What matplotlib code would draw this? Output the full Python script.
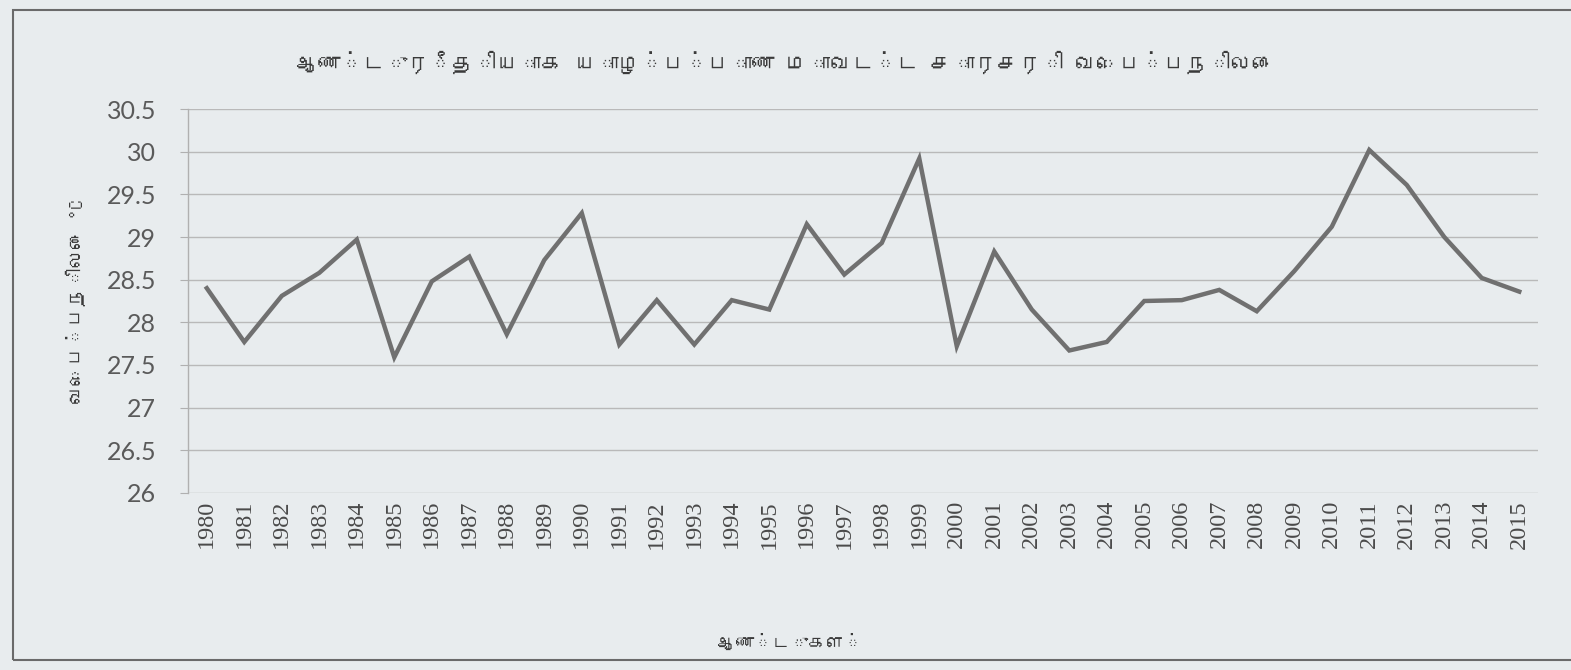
import matplotlib
matplotlib.use("Agg")
import matplotlib.pyplot as plt
from matplotlib import font_manager
from matplotlib.ft2font import FT2Font
from matplotlib.patches import Rectangle

# --- data ---
years = list(range(1980, 2016))
temps = [28.40, 27.77, 28.31, 28.58, 28.97, 27.59, 28.48, 28.77, 27.86, 28.73,
         29.28, 27.74, 28.26, 27.74, 28.26, 28.15, 29.15, 28.56, 28.93, 29.92,
         27.72, 28.83, 28.15, 27.67, 27.77, 28.25, 28.26, 28.38, 28.13, 28.60,
         29.12, 30.02, 29.61, 29.00, 28.52, 28.36]
y_ticks = [26, 26.5, 27, 27.5, 28, 28.5, 29, 29.5, 30, 30.5]
y_tick_labels = ["26", "26.5", "27", "27.5", "28", "28.5", "29", "29.5", "30", "30.5"]

title = "ஆண்டுரீதியாக யாழ்ப்பாண மாவட்ட சாரசரி வெப்பநிலை"
xlabel = "ஆண்டுகள்"
ylabel = "வெப்பநிலை °C"


def find_tamil_font():
    # register every installed font that has Tamil glyphs, return a family name
    name = None
    for path in font_manager.findSystemFonts():
        try:
            if 0x0B86 in FT2Font(path).get_charmap():
                font_manager.fontManager.addfont(path)
                if name is None:
                    name = font_manager.FontProperties(fname=path).get_name()
        except Exception:
            continue
    return name


tamil = find_tamil_font()
tamil_family = [tamil, "DejaVu Sans"] if tamil else ["DejaVu Sans"]

bg = "#e8ecee"
fig = plt.figure(figsize=(15.71, 6.70), dpi=100, facecolor=bg)
ax = fig.add_axes([0.1197, 0.2642, 0.8593, 0.5731])
ax.set_facecolor(bg)

ax.plot(years, temps, color="#707070", lw=3.2, solid_joinstyle="miter")

ax.set_xlim(1979.5, 2015.5)
ax.set_ylim(26, 30.5)
ax.set_yticks(y_ticks)
ax.set_yticklabels(y_tick_labels, family="Lato", fontsize=18, color="#5a5a5a")
ax.set_xticks(years)
ax.set_xticklabels([str(y) for y in years], rotation=90, family="Liberation Serif",
                   fontsize=17.5, color="#4a4a4a")
ax.tick_params(axis="x", length=0, pad=5)
ax.tick_params(axis="y", length=6, color="#b0b0b0", pad=17)
ax.grid(axis="y", color="#b9b9b9", lw=1.0)
ax.set_axisbelow(True)
for s in ["top", "right", "bottom"]:
    ax.spines[s].set_visible(False)
ax.spines["left"].set_color("#b0b0b0")
ax.spines["left"].set_linewidth(1.0)

fig.text(0.5, 0.907, title, ha="center", va="center", fontsize=16,
         family=tamil_family, color="#3a3a3a", fontweight="bold")
fig.text(0.503, 0.042, xlabel, ha="center", va="center", fontsize=13,
         family=tamil_family, color="#3a3a3a", fontweight="bold")
fig.text(0.048, 0.55, ylabel, ha="center", va="center", rotation=90, fontsize=14,
         family=tamil_family, color="#3a3a3a", fontweight="bold")

# outer chart frame
fig.patches.append(Rectangle((0.008, 0.015), 0.995, 0.97, transform=fig.transFigure,
                             fill=False, edgecolor="#6a6a6a", lw=1.5))

fig.savefig("out.png", dpi=100, facecolor=bg)
